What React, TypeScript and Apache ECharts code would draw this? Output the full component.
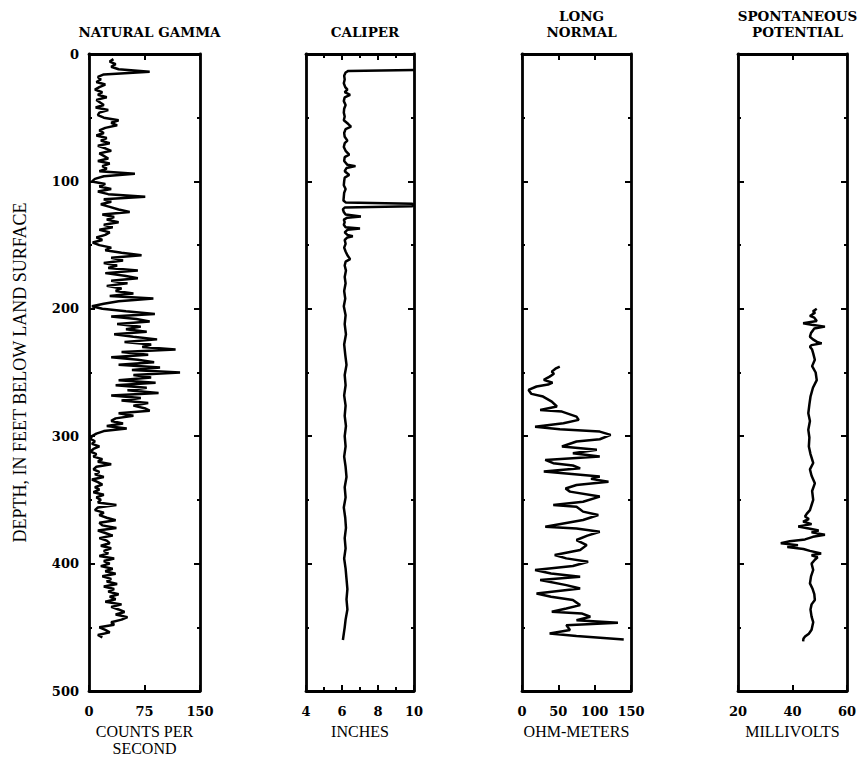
import React, { useEffect, useRef } from "react";
import * as echarts from "echarts";

// ---- Panel definitions ----
const PANEL_TITLES = ["NATURAL GAMMA", "CALIPER", "LONG\nNORMAL", "SPONTANEOUS\nPOTENTIAL"];
const AXIS_NAMES = ["COUNTS PER\nSECOND", "INCHES", "OHM-METERS", "MILLIVOLTS"];
const X_MIN = [0, 4, 0, 20];
const X_MAX = [150, 10, 150, 60];
const X_INTERVAL = [75, 2, 50, 20];
const X_MINOR_SPLIT = [0, 2, 0, 0];
const DEPTH_MIN = 0;
const DEPTH_MAX = 500;
const DEPTH_INTERVAL = 100;
const DEPTH_NAME = "DEPTH, IN FEET BELOW LAND SURFACE";

// ---- Natural gamma (counts per second), sampled every 2 ft from 4 ft ----
const GAMMA_TOP_DEPTH = 4;
const GAMMA_STEP = 2;
const GAMMA_VALUES = [
  33, 28, 36, 30, 40, 82, 20, 12,
  16, 10, 22, 14, 8, 18, 12, 24, 10, 15, 20, 9, 26, 14, 12, 20,
  40, 30, 38, 22, 14, 20, 10, 24, 16, 28, 12, 22, 30, 14, 20, 26, 12, 28, 18, 24, 14, 62, 20, 8,
  4, 22, 14, 30, 12, 26, 76, 20, 30, 16, 28, 40, 55, 18, 34, 24, 40, 20, 32, 14, 28, 22, 10, 18, 5,
  14, 30, 22, 44, 71, 30, 46, 20, 38, 26, 66, 22, 48, 66, 30, 52, 24, 44, 36, 60, 28, 87, 40, 20, 4,
  18, 50, 89, 30, 64, 82, 38, 70, 50, 78, 34, 60, 92, 48, 84, 72, 117, 44, 80, 30, 66, 88, 40, 96, 58,
  123, 60, 84, 40, 90, 36, 78, 52, 94, 30, 70, 44, 80, 60, 75, 82, 40, 60, 36, 30, 46, 24, 51, 20, 10,
  4, 2, 8, 4, 14, 6, 2, 10, 6, 18, 12, 30, 10, 6, 14, 8, 20, 4, 12, 18, 8, 14, 6, 20, 10,
  16, 12, 37, 12, 8, 20, 14, 24, 36, 14, 18, 37, 12, 22, 32, 14, 24, 28, 16, 30, 20, 26, 14, 34, 20,
  28, 16, 32, 22, 36, 18, 30, 24, 38, 20, 34, 26, 40, 28, 36, 22, 44, 30, 40, 48, 36, 52, 44, 30, 34,
  14, 22, 28, 12, 18,
];

// ---- Caliper (inches) as [depth, value] ----
const CALIPER = [
  [12.5, 10], [13.3, 6.35], [14.5, 6.2], [17, 6.12], [20, 6.15], [23, 6.1], [26, 6.18], [28, 6.3], [30, 6.15],
  [32, 6.45], [34, 6.15], [37, 6.1], [40, 6.2], [43, 6.12], [46, 6.1], [49, 6.15], [52, 6.1], [55, 6.35],
  [57, 6.5], [59, 6.2], [62, 6.12], [65, 6.15], [68, 6.3], [70, 6.15], [73, 6.1], [76, 6.2], [79, 6.4],
  [81, 6.15], [84, 6.12], [87, 6.3], [88, 6.75], [89.5, 6.25], [92, 6.15], [95, 6.4], [97, 6.15], [100, 6.12],
  [103, 6.1], [106, 6.2], [109, 6.12], [112, 6.1], [115, 6.08], [116.5, 6.2], [117.5, 9.9], [118.5, 10],
  [119.5, 9.9], [120.5, 6.15], [122, 6.05], [124, 6.1], [126, 6.2], [127.5, 7.05], [128.5, 6.3], [130, 6.1],
  [132, 6.15], [134, 6.1], [136, 6.2], [137, 7.0], [138, 6.3], [140, 6.15], [142, 6.3], [143, 6.6], [144, 6.3],
  [146, 6.15], [149, 6.2], [152, 6.12], [155, 6.2], [158, 6.3], [161, 6.45], [163, 6.2], [166, 6.15],
  [170, 6.22], [175, 6.15], [180, 6.2], [186, 6.12], [192, 6.18], [198, 6.1], [205, 6.2], [212, 6.15],
  [220, 6.22], [228, 6.12], [236, 6.18], [244, 6.25], [252, 6.15], [260, 6.2], [268, 6.12], [276, 6.2],
  [284, 6.15], [292, 6.22], [300, 6.15], [308, 6.2], [316, 6.12], [324, 6.2], [332, 6.25], [340, 6.15],
  [348, 6.2], [356, 6.1], [364, 6.18], [372, 6.22], [380, 6.15], [388, 6.2], [396, 6.12], [404, 6.2],
  [412, 6.25], [420, 6.3], [428, 6.25], [436, 6.3], [444, 6.2], [450, 6.15], [455, 6.1], [460, 6.05],
];

// ---- Long normal resistivity (ohm-meters) as [depth, value] ----
const LONG_NORMAL = [
  [245.4, 52], [247, 46], [249.3, 41], [251, 44], [253.2, 38], [255.8, 30], [258, 42], [259.5, 36],
  [261, 20], [263.7, 9], [266.8, 13], [268.9, 29], [272.8, 41], [276.7, 48], [279.4, 25], [280.7, 55],
  [284.6, 75], [287.2, 78], [289.8, 57], [292.5, 18], [294.6, 52], [296.4, 107], [299, 122], [302.4, 107],
  [304.2, 75], [308.1, 55], [310.7, 103], [313.3, 70], [316, 107], [318.6, 32], [321.2, 43], [323, 70],
  [325.2, 80], [327.8, 30], [331.7, 107], [333.5, 95], [335.7, 119], [338.3, 75], [341, 60], [343.5, 66],
  [347.4, 107], [351.4, 84], [354, 43], [355.3, 75], [359.2, 84], [361.9, 105], [365.8, 84], [371, 32],
  [372.4, 75], [375, 107], [378, 90], [381.5, 75], [385.5, 89], [389.4, 80], [393.3, 45], [395.9, 61],
  [398.5, 91], [401.9, 70], [405.1, 18], [407.7, 40], [410.3, 80], [412.9, 25], [416.9, 61], [419.5, 80],
  [423.4, 20], [426, 40], [428.6, 70], [432.6, 80], [435.2, 61], [437.8, 41], [439.1, 82], [441.7, 94],
  [444.4, 75], [446.5, 132], [448.3, 61], [452.2, 66], [454.8, 38], [456.9, 75], [459.6, 140],
];

// ---- Spontaneous potential (millivolts) as [depth, value] ----
const SPONTANEOUS = [
  [200, 48.9], [202, 47.5], [203, 48.3], [205.6, 46.4], [207, 48], [209.6, 48.9], [211.4, 43.9], [212.5, 47],
  [214, 51.9], [215.5, 48], [216.6, 47.6], [219, 46.8], [221.9, 46.4], [224, 47.5], [226, 49], [227.1, 50.7],
  [228.5, 47], [229.7, 46.4], [232, 47.2], [235, 47.6], [240, 48.2], [245, 47.2], [250, 48.5], [256, 48.9],
  [262, 47.5], [269, 46.6], [275, 46.2], [282, 45.8], [288, 46.4], [295, 45.8], [301, 46.2], [308, 46],
  [314, 46.6], [321, 47.6], [326, 46.4], [331, 47], [337, 48.2], [343, 47.2], [350, 47.6], [354, 47],
  [358, 46.4], [361, 45.2], [363, 44.6], [365, 46], [367, 43.9], [369, 47], [370.9, 42.1], [372.5, 46],
  [374, 49.6], [375.5, 47], [377.4, 51.9], [379, 47.5], [381, 44.6], [382.5, 39], [384, 35.7], [385.5, 42],
  [387, 38.1], [388.5, 44], [390, 46.4], [392, 50.5], [393.5, 47], [395, 49.2], [397, 48.2], [400, 47],
  [405, 47.6], [410, 46.8], [415.5, 46.4], [420, 47.4], [424, 48], [428.5, 48.2], [432, 47], [436, 46.6],
  [441.6, 47], [446, 47.6], [452, 47], [455, 46], [457.3, 44.6], [459, 44], [461, 43.9],
];

// ---- Layout ----
const PANEL_LEFT = [89, 306, 522, 738];
const PANEL_WIDTH = [111, 108, 109, 109];
const PANEL_TOP = 54;
const PANEL_HEIGHT = 637;

const BOLD_FONT = "DejaVu Serif";
const PLAIN_FONT = "Liberation Serif";

export default function App() {
  const ref = useRef<HTMLDivElement>(null);

  useEffect(() => {
    if (!ref.current) return;
    const chart = echarts.init(ref.current, undefined, { renderer: "svg" });

    const gammaData = GAMMA_VALUES.map((v, i) => [v, GAMMA_TOP_DEPTH + i * GAMMA_STEP]);
    const toXY = (arr: number[][]) => arr.map(([d, v]) => [v, d]);
    const seriesData = [gammaData, toXY(CALIPER), toXY(LONG_NORMAL), toXY(SPONTANEOUS)];

    const lineStyle = { color: "#000", width: 2.8 };
    const tickStyle = { color: "#000", width: 2 };

    const grids = PANEL_LEFT.map((l, i) => ({
      left: l,
      width: PANEL_WIDTH[i],
      top: PANEL_TOP,
      height: PANEL_HEIGHT,
      containLabel: false,
      outerBoundsMode: "none",
    }));

    const xAxes: any[] = [];
    const yAxes: any[] = [];
    for (let i = 0; i < 4; i++) {
      const common = {
        type: "value",
        gridIndex: i,
        min: X_MIN[i],
        max: X_MAX[i],
        interval: X_INTERVAL[i],
        axisLine: { show: true, onZero: false, lineStyle },
        axisTick: { show: true, inside: true, length: 6, lineStyle: tickStyle },
        minorTick: {
          show: X_MINOR_SPLIT[i] > 0,
          splitNumber: X_MINOR_SPLIT[i] || 5,
          length: 4,
          lineStyle: tickStyle,
        },
        splitLine: { show: false },
      };
      xAxes.push({
        ...common,
        position: "bottom",
        axisLabel: {
          show: true,
          margin: 14,
          color: "#000",
          fontFamily: BOLD_FONT,
          fontWeight: "bold",
          fontSize: 13,
        },
        name: AXIS_NAMES[i],
        nameLocation: "middle",
        nameGap: 32,
        nameTextStyle: {
          color: "#000",
          fontFamily: PLAIN_FONT,
          fontSize: 16,
          lineHeight: 17,
        },
      });
      xAxes.push({
        ...common,
        position: "top",
        axisLabel: { show: false },
      });

      const yCommon = {
        type: "value",
        gridIndex: i,
        min: DEPTH_MIN,
        max: DEPTH_MAX,
        interval: DEPTH_INTERVAL,
        inverse: true,
        axisLine: { show: true, onZero: false, lineStyle },
        axisTick: { show: true, inside: true, length: 6, lineStyle: tickStyle },
        minorTick: { show: true, splitNumber: 2, length: 3, lineStyle: tickStyle },
        splitLine: { show: false },
      };
      yAxes.push({
        ...yCommon,
        position: "left",
        axisLabel: {
          show: i === 0,
          margin: 10,
          color: "#000",
          fontFamily: BOLD_FONT,
          fontWeight: "bold",
          fontSize: 13,
        },
        ...(i === 0
          ? {
              name: DEPTH_NAME,
              nameLocation: "middle",
              nameGap: 60,
              nameRotate: 90,
              nameTextStyle: { color: "#000", fontFamily: PLAIN_FONT, fontSize: 18 },
            }
          : {}),
      });
      yAxes.push({
        ...yCommon,
        position: "right",
        axisLabel: { show: false },
      });
    }

    const series = seriesData.map((data, i) => ({
      type: "line",
      xAxisIndex: i * 2,
      yAxisIndex: i * 2,
      data,
      showSymbol: false,
      symbol: "none",
      lineStyle: { color: "#000", width: 2.5 },
      silent: true,
    }));

    const titles = PANEL_TITLES.map((t, i) => ({
      text: t,
      left: PANEL_LEFT[i] + PANEL_WIDTH[i] / 2,
      top: t.includes("\n") ? 3 : 19,
      textAlign: "center",
      textStyle: {
        color: "#000",
        fontFamily: BOLD_FONT,
        fontWeight: "bold",
        fontSize: 13.5,
        lineHeight: 16,
      },
    }));

    chart.setOption({
      animation: false,
      backgroundColor: "#fff",
      title: titles,
      grid: grids,
      xAxis: xAxes,
      yAxis: yAxes,
      series,
    });

    return () => chart.dispose();
  }, []);

  return (
    <div
      ref={ref}
      style={{ position: "fixed", left: 0, top: 0, width: 861, height: 761, background: "#fff" }}
    />
  );
}
